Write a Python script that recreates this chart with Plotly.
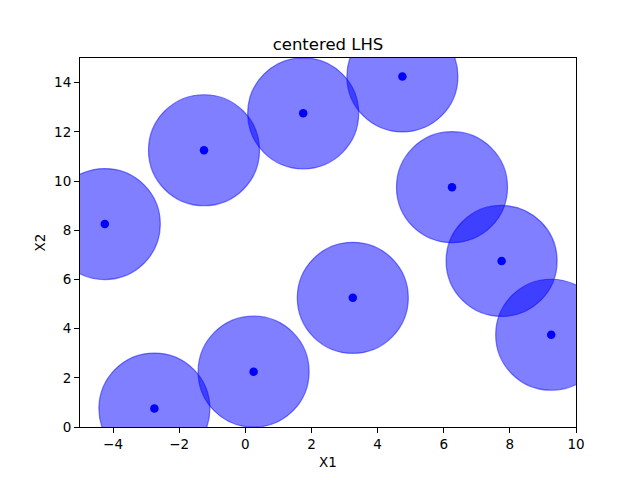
import plotly.graph_objects as go

# centered LHS sample, 10 points on [-5, 10] x [0, 15]
x1 = [-4.25, -2.75, -1.25, 0.25, 1.75, 3.25, 4.75, 6.25, 7.75, 9.25]
x2 = [8.25, 0.75, 11.25, 2.25, 12.75, 5.25, 14.25, 9.75, 6.75, 3.75]

x_ticks = [-4, -2, 0, 2, 4, 6, 8, 10]
y_ticks = [0, 2, 4, 6, 8, 10, 12, 14]

font = "DejaVu Sans"

fig = go.Figure()
fig.add_trace(
    go.Scatter(
        x=x1,
        y=x2,
        mode="markers",
        marker=dict(
            size=111,
            color="rgba(0,0,255,0.5)",
            line=dict(width=1.2, color="rgba(0,0,255,0.5)"),
        ),
        cliponaxis=True,
        showlegend=False,
        hoverinfo="skip",
    )
)
fig.add_trace(
    go.Scatter(
        x=x1,
        y=x2,
        mode="markers",
        marker=dict(size=8.5, color="#0000ff", line=dict(width=0)),
        showlegend=False,
    )
)

axis_style = dict(
    showline=True,
    linecolor="black",
    linewidth=1.1,
    mirror=True,
    ticks="outside",
    ticklen=5,
    tickwidth=1.1,
    tickcolor="black",
    showgrid=False,
    zeroline=False,
    tickfont=dict(family=font, size=13.5, color="black"),
    title_font=dict(family=font, size=13.5, color="black"),
)

fig.update_xaxes(
    range=[-5, 10], tickvals=x_ticks, title_text="X1", title_standoff=6, **axis_style
)
fig.update_yaxes(
    range=[0, 15], tickvals=y_ticks, title_text="X2", title_standoff=5, **axis_style
)

# page body adds an 8px offset, so margins are shifted to compensate
fig.update_layout(
    width=640,
    height=480,
    margin=dict(l=72, r=72, t=50, b=61),
    plot_bgcolor="white",
    paper_bgcolor="white",
    title=dict(
        text="centered LHS",
        font=dict(family=font, size=16.5, color="black"),
        x=0.5,
        xanchor="center",
        xref="container",
        yref="container",
        y=1 - 36 / 480,
        yanchor="middle",
    ),
)

fig.write_html("out.html")
